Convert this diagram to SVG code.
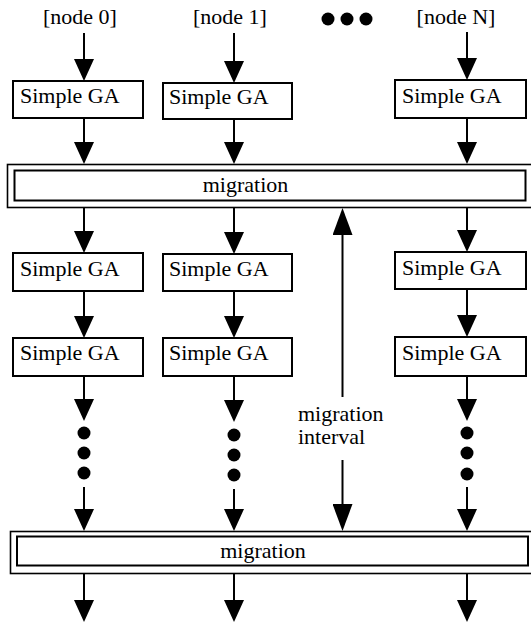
<svg xmlns="http://www.w3.org/2000/svg" width="531" height="624" viewBox="0 0 531 624">
<style>
text{font-family:'Liberation Serif','DejaVu Serif',serif;font-size:22px;fill:#000}
.box{fill:#fff;stroke:#000;stroke-width:2}
.outer{fill:#fff;stroke:#000;stroke-width:1.6}
.inner{fill:#fff;stroke:#000;stroke-width:2}
.ln{stroke:#000;stroke-width:2;fill:none}
.a{marker-end:url(#ah)}
.b{marker-end:url(#ahb)}
</style>
<defs>
<marker id="ah" markerUnits="userSpaceOnUse" viewBox="0 0 22 20" markerWidth="22" markerHeight="20" refX="0" refY="10" orient="auto"><path d="M0,0 L22,10 L0,20 z" fill="#000"/></marker>
<marker id="ahb" markerUnits="userSpaceOnUse" viewBox="0 0 27 20" markerWidth="27" markerHeight="20" refX="0" refY="10" orient="auto"><path d="M0,0 L27,10 L0,20 z" fill="#000"/></marker>
</defs>
<rect width="531" height="624" fill="#fff"/>
<g font-family="Liberation Serif, DejaVu Serif, serif" font-size="22">
<g id="labels">
<text x="80" y="24" text-anchor="middle">[node 0]</text>
<text x="230" y="24" text-anchor="middle">[node 1]</text>
<text x="456" y="24" text-anchor="middle">[node N]</text>
<circle cx="328" cy="19" r="6.5"/><circle cx="347" cy="19" r="6.5"/><circle cx="366" cy="19" r="6.5"/>
</g>
<g id="connectors">
<line class="ln a" x1="84" y1="33" x2="84" y2="59"/>
<line class="ln a" x1="234" y1="33" x2="234" y2="61"/>
<line class="ln a" x1="467" y1="32" x2="467" y2="58"/>
<line class="ln a" x1="84" y1="118" x2="84" y2="142"/>
<line class="ln a" x1="234" y1="119" x2="234" y2="142"/>
<line class="ln a" x1="467" y1="118" x2="467" y2="142"/>
<line class="ln a" x1="84" y1="207" x2="84" y2="231"/>
<line class="ln a" x1="234" y1="207" x2="234" y2="232"/>
<line class="ln a" x1="467" y1="207" x2="467" y2="230"/>
<line class="ln a" x1="84" y1="291" x2="84" y2="316"/>
<line class="ln a" x1="234" y1="291" x2="234" y2="316"/>
<line class="ln a" x1="467" y1="289" x2="467" y2="315"/>
<line class="ln a" x1="84" y1="376" x2="84" y2="399"/>
<line class="ln a" x1="234" y1="376" x2="234" y2="400"/>
<line class="ln a" x1="467" y1="376" x2="467" y2="399"/>
<circle cx="84" cy="433" r="6.5"/><circle cx="84" cy="453" r="6.5"/><circle cx="84" cy="473" r="6.5"/>
<circle cx="234" cy="435" r="6.5"/><circle cx="234" cy="455" r="6.5"/><circle cx="234" cy="475" r="6.5"/>
<circle cx="467" cy="433" r="6.5"/><circle cx="467" cy="453" r="6.5"/><circle cx="467" cy="474" r="6.5"/>
<line class="ln a" x1="84" y1="487" x2="84" y2="509"/>
<line class="ln a" x1="234" y1="489" x2="234" y2="509"/>
<line class="ln a" x1="467" y1="487" x2="467" y2="509"/>
<line class="ln a" x1="84" y1="574" x2="84" y2="600"/>
<line class="ln a" x1="234" y1="574" x2="234" y2="600"/>
<line class="ln a" x1="467" y1="574" x2="467" y2="600"/>
<line class="ln b" x1="342.5" y1="397" x2="342.5" y2="235"/>
<line class="ln b" x1="342.5" y1="460" x2="342.5" y2="504"/>
</g>
<g id="mig-label">
<text x="298" y="421">migration</text>
<text x="298" y="444">interval</text>
</g>
<g id="ga0-1"><rect class="box" x="13" y="81" width="130" height="37"/><text x="20" y="103">Simple GA</text></g>
<g id="ga1-1"><rect class="box" x="163" y="83" width="129" height="36"/><text x="169" y="104">Simple GA</text></g>
<g id="gaN-1"><rect class="box" x="395" y="80" width="131" height="38"/><text x="402" y="103">Simple GA</text></g>
<g id="migration1"><rect class="outer" x="7.5" y="164.5" width="530" height="43"/><rect class="inner" x="14.5" y="170.5" width="511" height="30"/><text x="245.5" y="192" text-anchor="middle">migration</text></g>
<g id="ga0-2"><rect class="box" x="13" y="253" width="130" height="38"/><text x="20" y="275.5">Simple GA</text></g>
<g id="ga1-2"><rect class="box" x="163" y="254" width="129" height="37"/><text x="169" y="275.5">Simple GA</text></g>
<g id="gaN-2"><rect class="box" x="395" y="252" width="131" height="37"/><text x="402" y="275">Simple GA</text></g>
<g id="ga0-3"><rect class="box" x="13" y="338" width="130" height="38"/><text x="20" y="360">Simple GA</text></g>
<g id="ga1-3"><rect class="box" x="163" y="338" width="129" height="38"/><text x="169" y="360">Simple GA</text></g>
<g id="gaN-3"><rect class="box" x="395" y="337" width="131" height="39"/><text x="402" y="360">Simple GA</text></g>
<g id="migration2"><rect class="outer" x="10.5" y="531.5" width="530" height="42"/><rect class="inner" x="17" y="536.5" width="511" height="29"/><text x="263" y="558" text-anchor="middle">migration</text></g>
</g>
</svg>
